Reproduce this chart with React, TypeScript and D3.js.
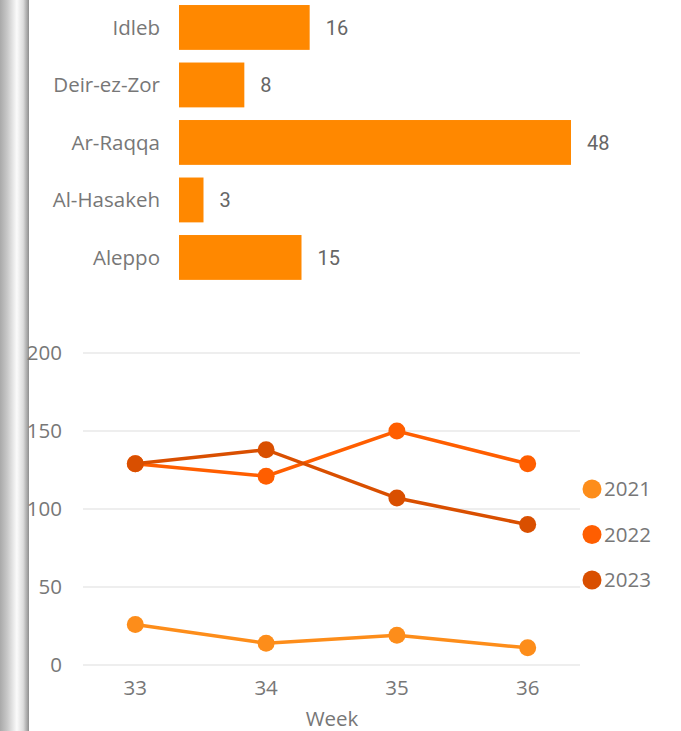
import * as d3 from 'd3';

// bar chart data
const regions = ['Idleb', 'Deir-ez-Zor', 'Ar-Raqqa', 'Al-Hasakeh', 'Aleppo'];
const regionCounts = [16, 8, 48, 3, 15];

// line chart data
const weeks = ['33', '34', '35', '36'];
const years = ['2021', '2022', '2023'];
const values2021 = [26, 14, 19, 11];
const values2022 = [129, 121, 150, 129];
const values2023 = [129, 138, 107, 90];
const yTicks = [0, 50, 100, 150, 200];

const yearColors = ['#FD8D1A', '#FF5E00', '#D94F00'];
const barColor = '#FF8800';
const textColor = '#777';
const font = '"Open Sans", "Noto Sans", sans-serif';
const fs = 20.5;

const W = 681;
const H = 731;

const App = (): JSX.Element => {
  // bar scales
  const xBar = d3.scaleLinear([0, 48], [179, 571]);
  const yBar = d3.scaleBand(regions, [-1.3, 286.2]).paddingInner(0.22).paddingOuter(0.11);

  // line scales
  const xLine = d3.scalePoint(weeks, [83, 580]).padding(0.4);
  const yLine = d3.scaleLinear([0, 200], [665, 353]);
  const series = [values2021, values2022, values2023];

  const line = d3
    .line<number>()
    .x((_, i) => xLine(weeks[i]) as number)
    .y((d) => yLine(d));

  const legendY = d3.scalePoint(years, [489, 580]);

  return (
    <div style={{ position: 'absolute', left: 0, top: 0 }}>
      <svg width={W} height={H} viewBox={`0 0 ${W} ${H}`} style={{ display: 'block' }}>
        <defs>
          <linearGradient id="edge" x1="0" x2="1" y1="0" y2="0">
            <stop offset="0%" stopColor="#a9a9a9" />
            <stop offset="25%" stopColor="#c8c8c8" />
            <stop offset="58%" stopColor="#fbfbfb" />
            <stop offset="80%" stopColor="#dcdcdc" />
            <stop offset="100%" stopColor="#8e8e8e" />
          </linearGradient>
        </defs>
        <rect x={0} y={0} width={W} height={H} fill="#fff" />
        <rect x={0} y={0} width={29} height={H} fill="url(#edge)" />

        {/* bar chart */}
        {regions.map((r, i) => {
          const y = yBar(r) as number;
          const h = yBar.bandwidth();
          return (
            <g key={r}>
              <rect x={xBar(0)} y={y} width={xBar(regionCounts[i]) - xBar(0)} height={h} fill={barColor} />
              <text
                x={160}
                y={y + h / 2}
                dy="0.35em"
                textAnchor="end"
                fontFamily={font}
                fontSize={fs}
                fill={textColor}
              >
                {r}
              </text>
              <text
                x={xBar(regionCounts[i]) + 16}
                y={y + h / 2}
                dy="0.36em"
                fontFamily="Roboto, sans-serif"
                fontSize={20}
                fill="#666"
              >
                {regionCounts[i]}
              </text>
            </g>
          );
        })}

        {/* line chart grid */}
        {yTicks.map((t) => (
          <g key={t}>
            <line x1={83} x2={580} y1={yLine(t)} y2={yLine(t)} stroke="#e9e9e9" strokeWidth={1.5} />
            <text
              x={62}
              y={yLine(t)}
              dy="0.35em"
              textAnchor="end"
              fontFamily={font}
              fontSize={fs}
              fill={textColor}
            >
              {t}
            </text>
          </g>
        ))}
        {weeks.map((w) => (
          <text
            key={w}
            x={xLine(w)}
            y={688}
            dy="0.35em"
            textAnchor="middle"
            fontFamily={font}
            fontSize={fs}
            fill={textColor}
          >
            {w}
          </text>
        ))}
        <text x={332} y={719} dy="0.35em" textAnchor="middle" fontFamily={font} fontSize={fs} fill={textColor}>
          Week
        </text>

        {/* lines */}
        {series.map((s, k) => (
          <g key={years[k]}>
            <path d={line(s) ?? ''} fill="none" stroke={yearColors[k]} strokeWidth={3.5} />
            {s.map((v, i) => (
              <circle key={i} cx={xLine(weeks[i])} cy={yLine(v)} r={8.5} fill={yearColors[k]} />
            ))}
          </g>
        ))}

        {/* legend */}
        {years.map((yr, k) => (
          <g key={yr}>
            <circle cx={592} cy={legendY(yr)} r={9.5} fill={yearColors[k]} />
            <text
              x={604}
              y={legendY(yr)}
              dy="0.35em"
              fontFamily={font}
              fontSize={fs}
              fill={textColor}
            >
              {yr}
            </text>
          </g>
        ))}
      </svg>
    </div>
  );
};

export default App;
